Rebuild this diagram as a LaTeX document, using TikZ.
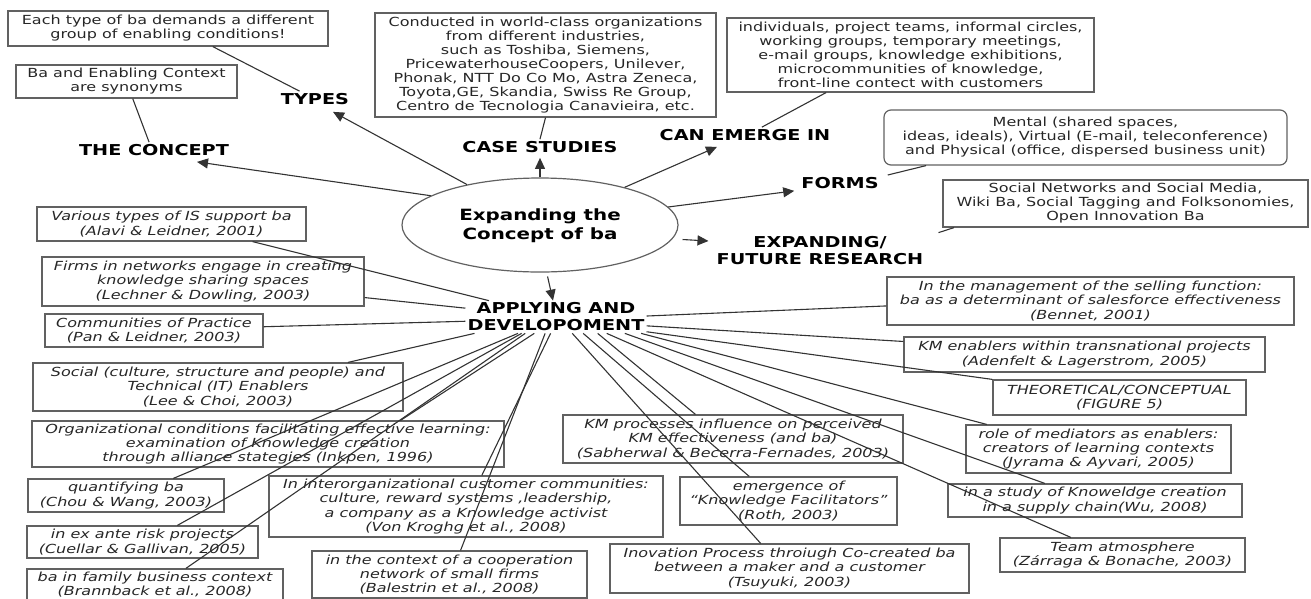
\documentclass[tikz,border=0pt]{standalone}
\usepackage{fontspec}
\setmainfont{DejaVu Sans}[FakeStretch=1.28]
\usetikzlibrary{shapes.geometric,arrows.meta,calc}

\newcommand\boxfont{\fontsize{12.5}{14}\selectfont}
\newcommand\litfont{\fontsize{12.5}{14.2}\selectfont\itshape}
\newcommand\lblfont{\fontsize{15}{17}\selectfont\bfseries}

\begin{document}
\begin{tikzpicture}[x=1pt,y=-1pt,
  box/.style={draw=black!62, line width=1.2pt, inner sep=2pt, align=center,
              text=black!85, font=\boxfont},
  lit/.style={box, font=\litfont},
  lbl/.style={font=\lblfont, align=center, inner sep=2pt, text=black},
  con/.style={draw=black!80, line width=1.1pt},
  arr/.style={con, -{Triangle[length=11pt,width=10pt]}}]

\useasboundingbox (0,0) rectangle (1311,598);

% centre of the map
\node[ellipse, draw=black!62, line width=1.2pt, minimum width=276, minimum height=94,
      align=center, font=\fontsize{15.5}{19}\selectfont\bfseries] (ell) at (540,225)
  {\strut Expanding the\\Concept of ba};

% main branches
\node[lbl] (concept) at (154,150) {THE CONCEPT};
\node[lbl] (types)   at (315,99)  {TYPES};
\node[lbl] (case)    at (540,147) {CASE STUDIES};
\node[lbl] (emerge)  at (745,135) {CAN EMERGE IN};
\node[lbl] (forms)   at (840,183) {FORMS};
\node[lbl] (future)  at (820,251) {EXPANDING/\\FUTURE RESEARCH};
\node[lbl] (apply)   at (556,317) {APPLYING AND\\DEVELOPOMENT};

% notes on the upper branches
\node[box, minimum width=320, minimum height=35] (typesbox) at (168,28.5)
  {Each type of ba demands a different\\group of enabling conditions!};
\node[box, minimum width=221, minimum height=33] (synbox) at (126.5,81.5)
  {Ba and Enabling Context\\are synonyms};
\node[box, minimum width=341, minimum height=104] (casebox) at (545.5,65)
  {Conducted in world-class organizations\\from different industries,\\such as Toshiba, Siemens,\\PricewaterhouseCoopers,  Unilever,\\Phonak, NTT Do Co Mo,  Astra Zeneca,\\Toyota,GE, Skandia, Swiss Re Group,\\Centro de Tecnologia Canavieira, etc.};
\node[box, minimum width=367, minimum height=74] (emergebox) at (910.5,55)
  {individuals, project teams, informal circles,\\working groups, temporary meetings,\\e-mail groups, knowledge exhibitions,\\microcommunities of knowledge,\\front-line contect with customers};
\node[box, rounded corners=7pt, minimum width=403, minimum height=55] (formsbox) at (1085.5,137.5)
  {Mental (shared spaces,\\ideas, ideals), Virtual (E-mail, teleconference)\\and Physical (office, dispersed business unit)};
\node[box, minimum width=365, minimum height=47] (socialbox) at (1125.5,203.5)
  {Social Networks and Social Media,\\Wiki Ba, Social Tagging and Folksonomies,\\Open Innovation Ba};

% literature on applying and development
\node[lit, minimum width=269, minimum height=34] (alavi) at (171.5,224)
  {Various types of IS support ba\\(Alavi \& Leidner, 2001)};
\node[lit, minimum width=322, minimum height=49] (firms) at (203,281.5)
  {Firms in networks engage in creating\\knowledge sharing spaces\\(Lechner \& Dowling, 2003)};
\node[lit, minimum width=218, minimum height=33] (pan) at (154,330.5)
  {Communities of Practice\\(Pan \& Leidner, 2003)};
\node[lit, minimum width=370, minimum height=48] (lee) at (218,387)
  {Social (culture, structure and people) and\\Technical (IT) Enablers\\(Lee \& Choi, 2003)};
\node[lit, minimum width=472, minimum height=46] (inkpen) at (268,444)
  {Organizational conditions facilitating effective learning:\\examination of Knowledge creation\\through alliance stategies (Inkpen, 1996)};
\node[lit, minimum width=196, minimum height=33] (chou) at (126,495.5)
  {quantifying ba\\(Chou \& Wang, 2003)};
\node[lit, minimum width=231, minimum height=32] (cuellar) at (142.5,542)
  {in ex ante risk projects\\(Cuellar \& Gallivan, 2005)};
\node[lit, minimum width=256, minimum height=31] (brann) at (155,584.5)
  {ba in family business context\\(Brannback et al., 2008)};
\node[lit, minimum width=394, minimum height=61] (vonkrogh) at (466,506.5)
  {In interorganizational customer communities:\\culture, reward systems ,leadership,\\a company as a Knowledge  activist\\(Von Kroghg et al., 2008)};
\node[lit, minimum width=275, minimum height=47] (balestrin) at (449.5,574.5)
  {in the context of a cooperation\\network of small firms\\(Balestrin et al., 2008)};
\node[lit, minimum width=340, minimum height=48] (kmproc) at (733,439)
  {KM processes influence on perceived\\KM effectiveness (and ba)\\(Sabherwal \& Becerra-Fernades, 2003)};
\node[lit, minimum width=217, minimum height=48] (roth) at (788.5,501)
  {emergence of\\``Knowledge Facilitators''\\(Roth, 2003)};
\node[lit, minimum width=359, minimum height=49] (tsuyuki) at (789.5,568.5)
  {Inovation Process throiugh Co-created ba\\between a maker and a customer\\(Tsuyuki, 2003)};
\node[lit, minimum width=265, minimum height=48] (jyrama) at (1098.5,449)
  {role of mediators as enablers:\\creators of learning contexts\\(Jyrama \& Ayvari, 2005)};
\node[lit, minimum width=294, minimum height=33] (wu) at (1095,500.5)
  {in a study of Knoweldge creation\\in a supply chain(Wu, 2008)};
\node[lit, minimum width=245, minimum height=34] (team) at (1122.5,555)
  {Team atmosphere\\(Zárraga \& Bonache, 2003)};
\node[lit, minimum width=253, minimum height=35] (theo) at (1119.5,397.5)
  {THEORETICAL/CONCEPTUAL\\(FIGURE 5)};
\node[lit, minimum width=361, minimum height=35] (adenfelt) at (1084.5,354.5)
  {KM enablers within transnational projects\\(Adenfelt \& Lagerstrom, 2005)};
\node[lit, minimum width=407, minimum height=48] (bennet) at (1090.5,301)
  {In the management of the selling function:\\ba as a determinant of salesforce effectiveness\\(Bennet, 2001)};

% arrows out of the centre
\draw[arr] (ell.165) -- ([xshift=43pt,yshift=-4pt]concept.south);
\draw[arr] (ell.151) -- ([xshift=18pt,yshift=-5pt]types.south);
\draw[arr] (ell.90) -- ([yshift=-3pt]case.south);
\draw[arr] (ell.24) -- ([xshift=-28pt,yshift=-4pt]emerge.south);
\draw[arr] (ell.8) -- ([xshift=-5pt]forms.south west);
\draw[arr, shorten <=10pt] (ell.-6) -- ([xshift=-6pt,yshift=10pt]future.west);
\draw[arr, shorten <=4pt] (ell.-82) -- ([xshift=-3pt]apply.north);

% notes attached to the branches
\draw[con] (typesbox.-22.6) -- (types.153);
\draw[con] (synbox.-70) -- (concept.122);
\draw[con] (casebox.south) -- (case.north);
\draw[con] (emergebox.204.7) -- (emerge.25);
\draw[con] (formsbox.190) -- ([xshift=7pt,yshift=8pt]forms.east);
\draw[con] (socialbox.188) -- ([xshift=13pt,yshift=2pt]future.north east);

% fan of studies around applying and development
\draw[con] ($(alavi.south west)!0.8!(alavi.south east)$) -- ($(apply.north west)!0.13!(apply.north east)$);
\draw[con] ($(firms.north east)!0.82!(firms.south east)$) -- ($(apply.north west)!0.23!(apply.south west)$);
\draw[con] ($(pan.north east)!0.39!(pan.south east)$) -- ($(apply.north west)!0.63!(apply.south west)$);
\draw[con] ($(lee.north west)!0.85!(lee.north east)$) -- ($(apply.south west)!0.05!(apply.south east)$);
\draw[con] ($(inkpen.north west)!0.78!(inkpen.north east)$) -- ($(apply.south west)!0.38!(apply.south east)$);
\draw[con] ($(chou.north west)!0.74!(chou.north east)$) -- ($(apply.south west)!0.29!(apply.south east)$);
\draw[con] ($(cuellar.north west)!0.65!(cuellar.north east)$) -- ($(apply.south west)!0.31!(apply.south east)$);
\draw[con] ($(brann.north west)!0.62!(brann.north east)$) -- ($(apply.south west)!0.33!(apply.south east)$);
\draw[con] ($(vonkrogh.north west)!0.54!(vonkrogh.north east)$) -- ($(apply.south west)!0.47!(apply.south east)$);
\draw[con] ($(balestrin.north west)!0.54!(balestrin.north east)$) -- ($(apply.south west)!0.44!(apply.south east)$);
\draw[con] ($(tsuyuki.north west)!0.42!(tsuyuki.north east)$) -- ($(apply.south west)!0.59!(apply.south east)$);
\draw[con] ($(roth.north west)!0.32!(roth.north east)$) -- ($(apply.south west)!0.65!(apply.south east)$);
\draw[con] ($(kmproc.north west)!0.39!(kmproc.north east)$) -- ($(apply.south west)!0.73!(apply.south east)$);
\draw[con] ($(team.north west)!0.29!(team.north east)$) -- ($(apply.south west)!0.78!(apply.south east)$);
\draw[con] ($(wu.north west)!0.33!(wu.north east)$) -- ($(apply.south west)!0.88!(apply.south east)$);
\draw[con] ($(jyrama.north west)!0.08!(jyrama.north east)$) -- ($(apply.south west)!0.97!(apply.south east)$);
\draw[con] ($(bennet.north west)!0.6!(bennet.south west)$) -- ($(apply.north east)!0.47!(apply.south east)$);
\draw[con] ($(adenfelt.north west)!0.14!(adenfelt.south west)$) -- ($(apply.north east)!0.77!(apply.south east)$);
\draw[con] (theo.north west) -- ($(apply.north east)!0.95!(apply.south east)$);

\end{tikzpicture}
\end{document}
